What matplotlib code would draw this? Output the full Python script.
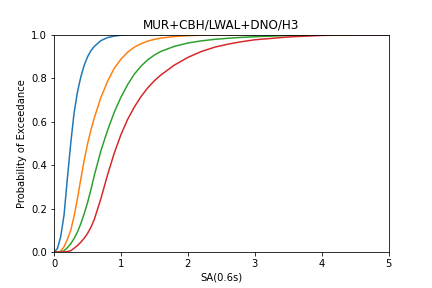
#!/usr/bin/env python3

"""Exceedance curves for MUR+CBH/LWAL+DNO/H3."""

import matplotlib
matplotlib.use('Agg')
import matplotlib.pyplot as plt

# SA(0.6s) sample points shared by all curves
sa = [0, 0.05, 0.1, 0.15, 0.2, 0.25, 0.3, 0.35, 0.4, 0.45, 0.5, 0.55, 0.6,
      0.7, 0.8, 0.9, 1.0, 1.1, 1.2, 1.3, 1.4, 1.5, 1.6,
      1.8, 2.0, 2.2, 2.4, 2.6, 2.8, 3.0,
      3.5, 4.0, 4.5, 5.0]

# probabilities, one list per damage state
ds1 = [0, 0.015, 0.07, 0.17, 0.34, 0.50, 0.64, 0.735, 0.805, 0.858, 0.897, 0.925, 0.945,
       0.972, 0.986, 0.993, 0.997, 0.999, 1, 1, 1, 1, 1,
       1, 1, 1, 1, 1, 1, 1,
       1, 1, 1, 1]
ds2 = [0, 0, 0.004, 0.024, 0.058, 0.10, 0.165, 0.245, 0.335, 0.42, 0.495, 0.56, 0.615,
       0.71, 0.785, 0.845, 0.887, 0.919, 0.942, 0.958, 0.97, 0.978, 0.984,
       0.991, 0.995, 0.997, 0.998, 0.999, 1, 1,
       1, 1, 1, 1]
ds3 = [0, 0, 0, 0.006, 0.02, 0.038, 0.062, 0.092, 0.13, 0.175, 0.226, 0.285, 0.35,
       0.465, 0.56, 0.643, 0.712, 0.77, 0.818, 0.855, 0.884, 0.906, 0.923,
       0.946, 0.961, 0.971, 0.978, 0.983, 0.987, 0.99,
       0.996, 0.999, 1, 1]
ds4 = [0, 0, 0, 0, 0.002, 0.006, 0.017, 0.03, 0.045, 0.063, 0.085, 0.113, 0.148,
       0.245, 0.355, 0.455, 0.54, 0.61, 0.667, 0.715, 0.755, 0.788, 0.815,
       0.86, 0.895, 0.922, 0.942, 0.956, 0.967, 0.976,
       0.989, 0.996, 0.999, 1]


def main():
    fig = plt.figure(figsize=(6, 4), dpi=72)
    for p in (ds1, ds2, ds3, ds4):
        plt.plot(sa, p)

    plt.xlim(0, 5)
    plt.ylim(0, 1)
    plt.title('MUR+CBH/LWAL+DNO/H3')
    plt.xlabel('SA(0.6s)')
    plt.ylabel('Probability of Exceedance')
    plt.subplots_adjust(left=0.125, right=0.9, bottom=0.125, top=0.88)

    fig.savefig('out.png', dpi=72)


if __name__ == '__main__':
    main()
